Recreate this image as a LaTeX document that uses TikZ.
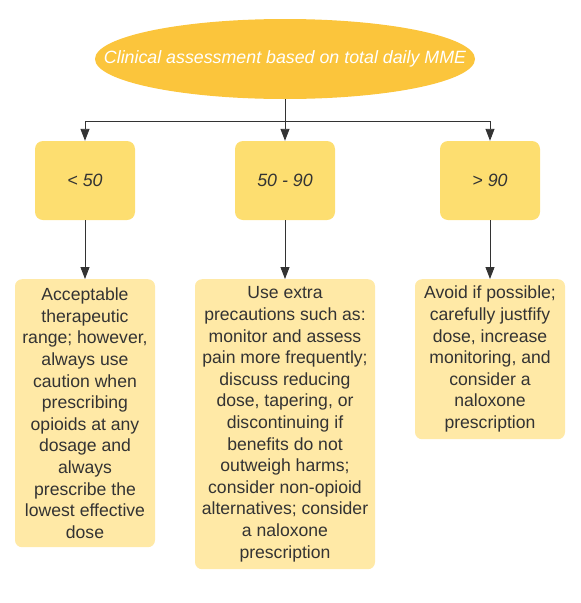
\documentclass[tikz,border=0pt]{standalone}
\usepackage{fontspec}
\setmainfont{Liberation Sans}
\usetikzlibrary{arrows.meta,positioning,shapes.geometric}
\definecolor{gold}{RGB}{251,197,60}
\definecolor{sun}{RGB}{253,222,112}
\definecolor{cream}{RGB}{255,233,166}
\definecolor{ink}{RGB}{51,51,51}
\tikzset{
  >={Triangle[width=9pt,length=12pt]},
  head/.style={ellipse,fill=gold,draw=none,inner xsep=-60pt,inner ysep=0pt,minimum width=380pt,minimum height=80pt,
    text=white,font=\fontsize{17.8}{20}\selectfont\itshape},
  doserange/.style={rectangle,fill=sun,rounded corners=8pt,minimum width=100pt,minimum height=79pt,
    text=ink,font=\fontsize{17.8}{20}\selectfont\itshape},
  note/.style={rectangle,fill=cream,rounded corners=7pt,anchor=north,align=center,inner sep=0pt,
    text=ink,font=\fontsize{17.6}{21.6}\selectfont},
  tr/.style={->,draw=ink,line width=0.9pt},
  ln/.style={draw=ink,line width=0.9pt}
}
\begin{document}
\begin{tikzpicture}[x=1pt,y=-1pt]
    \useasboundingbox (0,0) rectangle (581,603);

    % Top: total daily MME
    \node[head] (mme) at (285,59) {Clinical assessment based on total daily MME};
    \coordinate (split) at (285,121);

    % Dose ranges
    \node[doserange] (lo) at (85,180.5) {< 50};
    \node[doserange] (mid) at (285,180.5) {50 - 90};
    \node[doserange] (hi) at (490,180.5) {> 90};

    \draw[ln] (mme) -- (split);
    \draw[tr] (split) -| (lo);
    \draw[tr] (split) -- (mid);
    \draw[tr] (split) -| (hi);

    % Recommendations
    \node[note, minimum width=140pt, minimum height=268pt] (lotxt) at (85,279)
      {Acceptable\\therapeutic\\range; however,\\always use\\caution when\\prescribing\\opioids at any\\dosage and\\always\\prescribe the\\lowest effective\\dose};
    \node[note, minimum width=180pt, minimum height=290pt] (midtxt) at (285,279)
      {Use extra\\precautions such as:\\monitor and assess\\pain more frequently;\\discuss reducing\\dose, tapering, or\\discontinuing if\\benefits do not\\outweigh harms;\\consider non-opioid\\alternatives; consider\\a naloxone\\prescription};
    \node[note, minimum width=150pt, minimum height=160pt] (hitxt) at (490,279)
      {Avoid if possible;\\carefully justfify\\dose, increase\\monitoring, and\\consider a\\naloxone\\prescription};

    \draw[tr] (lo) -- (lotxt);
    \draw[tr] (mid) -- (midtxt);
    \draw[tr] (hi) -- (hitxt);
\end{tikzpicture}
\end{document}
